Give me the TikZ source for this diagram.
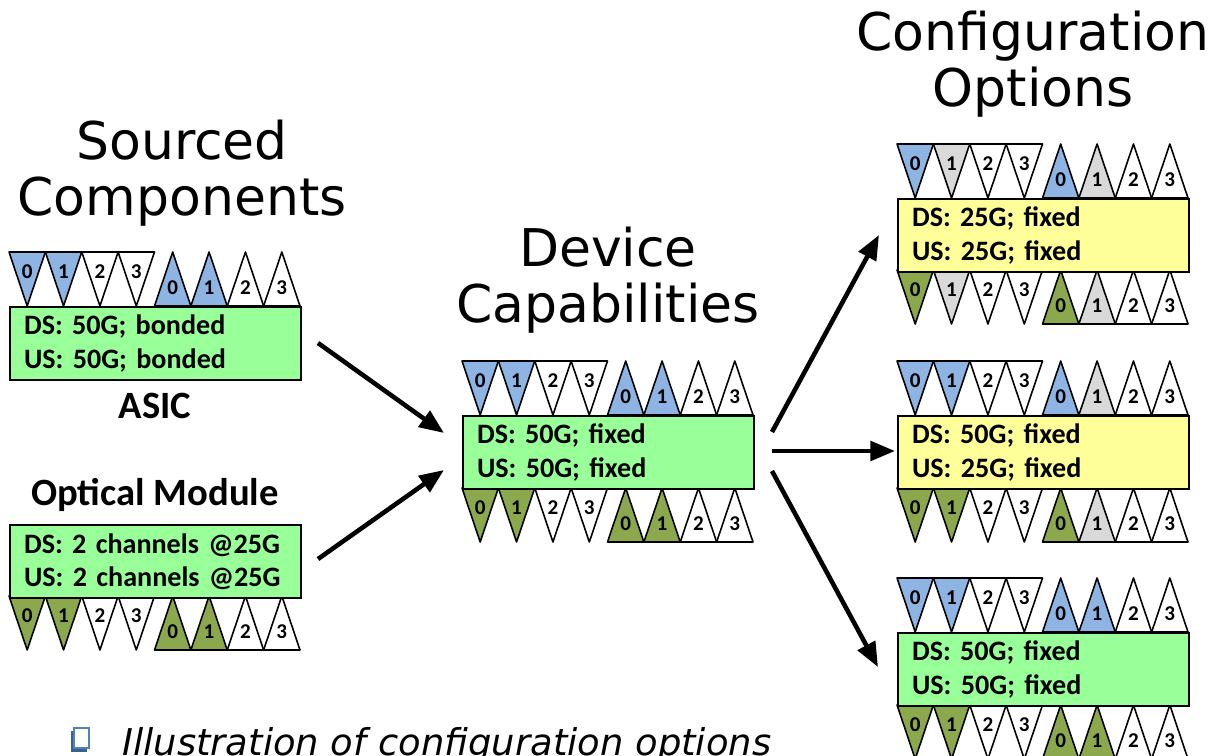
\documentclass[tikz,border=0pt]{standalone}
\usepackage{fontspec}
\setmainfont{Carlito}
\newfontfamily\titlefont{DejaVu Sans}
\usetikzlibrary{arrows.meta}

\definecolor{dsblue}{HTML}{8EB4E3}
\definecolor{usolive}{HTML}{8CA84C}
\definecolor{offgray}{HTML}{D9D9D9}
\definecolor{boxgreen}{HTML}{99FF99}
\definecolor{boxyellow}{HTML}{FFFF99}
\definecolor{bulletblue}{HTML}{4F81BD}

\newcommand{\triw}{36.375}
\newcommand{\trih}{54}

\tikzset{
  port/.style={draw, line width=0.9pt, line join=round},
  num/.style={font=\bfseries\fontsize{12}{14}\selectfont, inner sep=0pt},
  box/.style={draw, line width=1.2pt, anchor=north west, minimum width=5.82cm,
    minimum height=1.46cm, text width=5.26cm, inner xsep=0.28cm, align=left,
    font=\bfseries\fontsize{16}{19}\selectfont},
  head/.style={font=\bfseries\fontsize{22}{26}\selectfont},
  title/.style={align=center, font=\titlefont\fontsize{29.6}{31.9}\selectfont},
  arr/.style={line width=2.6pt, -{Triangle[length=14pt, width=11pt]}}
}

% one row of 8 ports: #1 name, #2 x, #3 y of upper edge,
% #4 colours of the 4 ports pointing down, #5 colours of the 4 pointing up
\newcommand{\portrow}[5]{%
  \foreach \c [count=\i from 0] in {#4} {
    \draw[port, fill=\c] ({#2+\i*\triw},#3) -- ({#2+(\i+1)*\triw},#3)
      -- ({#2+(\i+.5)*\triw},{#3+\trih}) -- cycle;
    \node[num] (#1-d\i) at ({#2+(\i+.5)*\triw},{#3+.37*\trih}) {\i};
  }
  \foreach \c [count=\i from 0] in {#5} {
    \draw[port, fill=\c] ({#2+(\i+4)*\triw},{#3+\trih}) -- ({#2+(\i+5)*\triw},{#3+\trih})
      -- ({#2+(\i+4.5)*\triw},#3) -- cycle;
    \node[num] (#1-u\i) at ({#2+(\i+4.5)*\triw},{#3+.66*\trih}) {\i};
  }
}

\begin{document}
\begin{tikzpicture}[x=0.02cm, y=-0.02cm]
  \useasboundingbox (0,0) rectangle (1213,756);

  % titles
  \node[title] (srctitle) at (182,173) {Sourced\\Components};
  \node[title] (devtitle) at (608,280) {Device\\Capabilities};
  \node[title] (opttitle) at (1033,64) {Configuration\\Options};

  % sourced components
  \portrow{asicT}{9}{252}{dsblue,dsblue,white,white}{dsblue,dsblue,white,white}
  \node[box, fill=boxgreen] (asic) at (9,306) {DS: 50G; bonded\\US: 50G; bonded};
  \node[head] (asicname) at (155,406) {ASIC};

  \node[head] (optname) at (155,495) {Optical Module};
  \portrow{optB}{9}{596}{usolive,usolive,white,white}{usolive,usolive,white,white}
  \node[box, fill=boxgreen] (opt) at (9,524) {DS: 2 channels @25G\\US: 2 channels @25G};

  % device capabilities
  \portrow{devT}{462}{361}{dsblue,dsblue,white,white}{dsblue,dsblue,white,white}
  \portrow{devB}{462}{488}{usolive,usolive,white,white}{usolive,usolive,white,white}
  \node[box, fill=boxgreen] (dev) at (462,415) {DS: 50G; fixed\\US: 50G; fixed};

  % configuration options
  \portrow{oneT}{897}{144}{dsblue,offgray,white,white}{dsblue,offgray,white,white}
  \portrow{oneB}{897}{270}{usolive,offgray,white,white}{usolive,offgray,white,white}
  \node[box, fill=boxyellow] (one) at (897,198) {DS: 25G; fixed\\US: 25G; fixed};

  \portrow{twoT}{897}{361}{dsblue,dsblue,white,white}{dsblue,offgray,white,white}
  \portrow{twoB}{897}{488}{usolive,usolive,white,white}{usolive,offgray,white,white}
  \node[box, fill=boxyellow] (two) at (897,415) {DS: 50G; fixed\\US: 25G; fixed};

  \portrow{thrT}{897}{578}{dsblue,dsblue,white,white}{dsblue,dsblue,white,white}
  \portrow{thrB}{897}{705}{usolive,usolive,white,white}{usolive,usolive,white,white}
  \node[box, fill=boxgreen] (thr) at (897,632) {DS: 50G; fixed\\US: 50G; fixed};

  % arrows
  \coordinate (asicout) at (318,343);
  \coordinate (optout) at (318,559);
  \coordinate (devin1) at (444,433);
  \coordinate (devin2) at (444,470);
  \coordinate (devout1) at (772,432);
  \coordinate (devout2) at (772,451);
  \coordinate (devout3) at (772,471);
  \coordinate (onein) at (879,235);
  \coordinate (twoin) at (895,451);
  \coordinate (thrin) at (878,667);
  \draw[arr] (asicout) -- (devin1);
  \draw[arr] (optout) -- (devin2);
  \draw[arr] (devout1) -- (onein);
  \draw[arr] (devout2) -- (twoin);
  \draw[arr] (devout3) -- (thrin);

  % caption
  \fill[bulletblue!75!black] (71,731) rectangle (87,752);
  \draw[bulletblue, fill=white, line width=1.6pt] (74,728) rectangle (89,748);
  \node[anchor=base west, inner sep=0pt, font=\titlefont\itshape\fontsize{21}{25}\selectfont]
    (caption) at (122,755) {Illustration of configuration options};
\end{tikzpicture}
\end{document}
